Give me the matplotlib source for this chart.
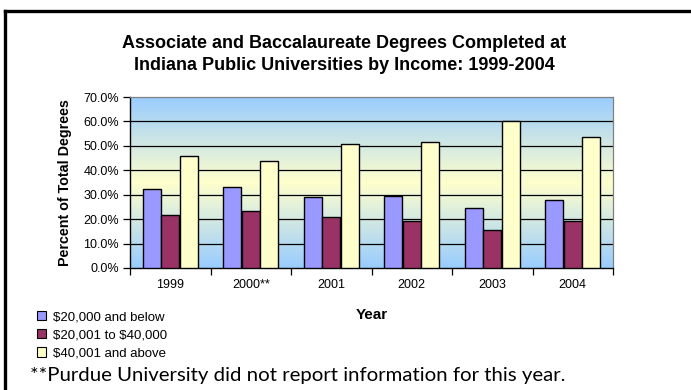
import numpy as np
import matplotlib
matplotlib.use('Agg')
import matplotlib.pyplot as plt
from matplotlib.colors import LinearSegmentedColormap
from matplotlib.patches import Patch
from matplotlib.lines import Line2D

# ─── data ───────────────────────────────────────────
years = ['1999', '2000**', '2001', '2002', '2003', '2004']
low_income = [32.5, 33.1, 29.0, 29.5, 24.5, 28.0]      # $20,000 and below
mid_income = [21.8, 23.5, 20.8, 19.3, 15.7, 19.4]      # $20,001 to $40,000
high_income = [45.9, 43.7, 50.7, 51.5, 60.2, 53.6]     # $40,001 and above
series_names = [r'\$20,000 and below', r'\$20,001 to \$40,000', r'\$40,001 and above']
series_colors = ['#9999ff', '#993366', '#ffffcc']

plt.rcParams['font.family'] = ['Liberation Sans', 'DejaVu Sans']

W, H = 691, 390
fig = plt.figure(figsize=(W / 100, H / 100), dpi=100)

def fx(px):
    return px / W

def fy(py):
    return 1 - py / H

# outer frame (top + left only visible)
fig.add_artist(Line2D([fx(5), 1.0], [fy(11), fy(11)], color='black', lw=2.4,
                      transform=fig.transFigure))
fig.add_artist(Line2D([fx(5), fx(5)], [fy(11), -0.05], color='black', lw=2.4,
                      transform=fig.transFigure))

ax = fig.add_axes([fx(130), fy(268), fx(613) - fx(130), fy(97) - fy(268)])

# gradient background blue -> pale yellow -> blue
cmap = LinearSegmentedColormap.from_list('bg', ['#99ccff', '#ffffcc', '#99ccff'])
grad = np.linspace(0, 1, 256).reshape(-1, 1)
ax.imshow(grad, cmap=cmap, aspect='auto', extent=[0, 1, 0, 1],
          transform=ax.transAxes, zorder=0)

x = np.arange(len(years))
w = 0.222
offs = [-0.228, 0.0, 0.228]
for vals, col, off in zip([low_income, mid_income, high_income], series_colors, offs):
    ax.bar(x + off, vals, width=w, color=col, edgecolor='black', linewidth=1.0, zorder=3)

ax.set_xlim(-0.5, len(years) - 0.5)
ax.set_ylim(0, 70)
ax.set_yticks(np.arange(0, 71, 10))
ax.set_yticklabels([f'{v:.1f}%' for v in np.arange(0, 71, 10)], fontsize=9)
for v in range(10, 70, 10):
    ax.axhline(v, color='black', lw=0.9, zorder=1)

ax.set_xticks(np.arange(-0.5, len(years), 1.0))
ax.set_xticklabels([])
ax.set_xticks(x, minor=True)
ax.set_xticklabels(years, minor=True, fontsize=9)
ax.tick_params(axis='x', which='major', direction='out', length=5, width=0.9)
ax.tick_params(axis='x', which='minor', length=0, pad=8)
ax.tick_params(axis='y', direction='out', length=5, width=0.9, pad=3)

for s in ['top', 'right']:
    ax.spines[s].set_color('#808080')
    ax.spines[s].set_linewidth(0.9)
for s in ['left', 'bottom']:
    ax.spines[s].set_color('black')
    ax.spines[s].set_linewidth(1.0)

ax.set_ylabel('Percent of Total Degrees', fontsize=10.3, fontweight='bold', labelpad=8)

fig.text(fx(344), fy(44), 'Associate and Baccalaureate Degrees Completed at',
         ha='center', va='center', fontsize=13, fontweight='bold')
fig.text(fx(344), fy(66), 'Indiana Public Universities by Income: 1999-2004',
         ha='center', va='center', fontsize=13, fontweight='bold')
fig.text(fx(372), fy(315), 'Year', ha='center', va='center', fontsize=11,
         fontweight='bold')

handles = [Patch(facecolor=c, edgecolor='black', linewidth=0.8) for c in series_colors]
fig.legend(handles, series_names, loc='upper left',
           bbox_to_anchor=(fx(37), fy(311)), frameon=False, fontsize=9.5,
           handlelength=0.7, handleheight=0.7, handletextpad=0.5,
           labelspacing=0.45, borderpad=0, borderaxespad=0)

fig.text(fx(30), fy(375), '**Purdue University did not report information for this year.',
         ha='left', va='center', fontsize=14.7, family=['Lato', 'DejaVu Sans'])

fig.savefig('out.png', dpi=100)
